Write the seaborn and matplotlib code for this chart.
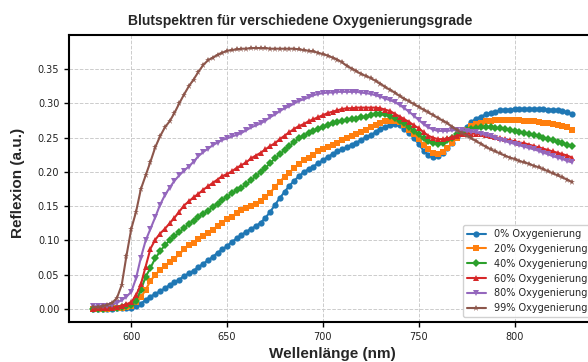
import numpy as np
import matplotlib
matplotlib.use('Agg')
import matplotlib.pyplot as plt
import seaborn as sns

# wavelength grid of the measurement (nm)
wavelength = np.linspace(580, 830, 101)

labels = ['0% Oxygenierung', '20% Oxygenierung', '40% Oxygenierung',
          '60% Oxygenierung', '80% Oxygenierung', '99% Oxygenierung']
markers = ['o', 's', 'D', '^', 'v', '*']

ox0 = [0.000, 0.000, 0.000, 0.000, 0.000, 0.001, 0.001, 0.002, 0.002, 0.005,
       0.008, 0.013, 0.018, 0.022, 0.026, 0.030, 0.035, 0.039, 0.043, 0.048,
       0.052, 0.056, 0.061, 0.066, 0.071, 0.076, 0.082, 0.087, 0.092, 0.098,
       0.103, 0.108, 0.113, 0.117, 0.121, 0.126, 0.133, 0.142, 0.152, 0.162,
       0.171, 0.180, 0.187, 0.194, 0.200, 0.204, 0.208, 0.213, 0.217, 0.222,
       0.226, 0.230, 0.233, 0.236, 0.240, 0.243, 0.247, 0.251, 0.254, 0.258,
       0.263, 0.266, 0.269, 0.270, 0.268, 0.263, 0.257, 0.249, 0.241, 0.231,
       0.225, 0.222, 0.223, 0.228, 0.235, 0.243, 0.251, 0.259, 0.266, 0.273,
       0.278, 0.281, 0.284, 0.286, 0.288, 0.290, 0.291, 0.291, 0.292, 0.292,
       0.292, 0.292, 0.292, 0.292, 0.292, 0.291, 0.291, 0.290, 0.289, 0.287,
       0.284]
ox20 = [0.000, 0.000, 0.000, 0.000, 0.001, 0.001, 0.002, 0.003, 0.005, 0.010,
        0.017, 0.028, 0.041, 0.050, 0.057, 0.063, 0.068, 0.073, 0.080, 0.087,
        0.093, 0.097, 0.102, 0.107, 0.111, 0.116, 0.121, 0.126, 0.131, 0.135,
        0.140, 0.144, 0.147, 0.150, 0.153, 0.157, 0.163, 0.170, 0.178, 0.186,
        0.193, 0.199, 0.206, 0.212, 0.217, 0.221, 0.225, 0.230, 0.233, 0.237,
        0.240, 0.243, 0.246, 0.249, 0.252, 0.255, 0.258, 0.262, 0.265, 0.269,
        0.272, 0.274, 0.275, 0.275, 0.273, 0.268, 0.262, 0.255, 0.248, 0.240,
        0.233, 0.228, 0.226, 0.229, 0.235, 0.242, 0.250, 0.256, 0.262, 0.267,
        0.270, 0.272, 0.274, 0.275, 0.276, 0.276, 0.276, 0.276, 0.276, 0.276,
        0.275, 0.275, 0.274, 0.273, 0.272, 0.271, 0.270, 0.268, 0.267, 0.265,
        0.262]
ox40 = [0.000, 0.000, 0.000, 0.001, 0.001, 0.002, 0.003, 0.004, 0.006, 0.012,
        0.028, 0.047, 0.060, 0.074, 0.084, 0.093, 0.100, 0.106, 0.112, 0.118,
        0.124, 0.129, 0.134, 0.139, 0.143, 0.149, 0.154, 0.159, 0.164, 0.169,
        0.173, 0.177, 0.182, 0.188, 0.194, 0.200, 0.206, 0.213, 0.220, 0.226,
        0.232, 0.238, 0.244, 0.249, 0.253, 0.257, 0.260, 0.263, 0.266, 0.269,
        0.271, 0.273, 0.275, 0.276, 0.277, 0.278, 0.280, 0.281, 0.283, 0.284,
        0.284, 0.284, 0.282, 0.279, 0.275, 0.271, 0.266, 0.260, 0.255, 0.249,
        0.245, 0.242, 0.241, 0.243, 0.246, 0.250, 0.255, 0.259, 0.261, 0.263,
        0.264, 0.265, 0.265, 0.265, 0.264, 0.264, 0.263, 0.261, 0.260, 0.259,
        0.257, 0.256, 0.254, 0.252, 0.250, 0.248, 0.246, 0.244, 0.242, 0.240,
        0.238]
ox60 = [0.000, 0.001, 0.001, 0.002, 0.002, 0.003, 0.005, 0.007, 0.010, 0.020,
        0.036, 0.062, 0.088, 0.101, 0.110, 0.117, 0.125, 0.133, 0.142, 0.151,
        0.157, 0.163, 0.168, 0.174, 0.179, 0.184, 0.189, 0.194, 0.197, 0.201,
        0.206, 0.210, 0.214, 0.220, 0.224, 0.228, 0.233, 0.238, 0.242, 0.248,
        0.253, 0.258, 0.263, 0.267, 0.270, 0.274, 0.277, 0.280, 0.283, 0.286,
        0.288, 0.290, 0.292, 0.293, 0.293, 0.294, 0.294, 0.294, 0.294, 0.294,
        0.293, 0.291, 0.289, 0.285, 0.281, 0.277, 0.273, 0.268, 0.264, 0.258,
        0.253, 0.250, 0.248, 0.248, 0.249, 0.251, 0.253, 0.255, 0.256, 0.256,
        0.256, 0.255, 0.254, 0.253, 0.251, 0.249, 0.248, 0.246, 0.245, 0.243,
        0.242, 0.240, 0.238, 0.236, 0.234, 0.232, 0.230, 0.228, 0.226, 0.224,
        0.221]
ox80 = [0.004, 0.004, 0.005, 0.005, 0.006, 0.009, 0.013, 0.018, 0.025, 0.045,
        0.075, 0.100, 0.117, 0.134, 0.152, 0.166, 0.177, 0.187, 0.195, 0.202,
        0.208, 0.215, 0.223, 0.229, 0.234, 0.239, 0.243, 0.247, 0.249, 0.252,
        0.254, 0.257, 0.261, 0.265, 0.268, 0.271, 0.275, 0.280, 0.284, 0.289,
        0.293, 0.296, 0.300, 0.304, 0.306, 0.309, 0.312, 0.314, 0.315, 0.316,
        0.316, 0.317, 0.317, 0.317, 0.317, 0.317, 0.316, 0.315, 0.314, 0.312,
        0.310, 0.307, 0.305, 0.302, 0.298, 0.293, 0.288, 0.282, 0.276, 0.270,
        0.265, 0.262, 0.260, 0.260, 0.260, 0.261, 0.261, 0.261, 0.260, 0.259,
        0.258, 0.256, 0.254, 0.252, 0.249, 0.247, 0.245, 0.243, 0.241, 0.239,
        0.237, 0.235, 0.233, 0.231, 0.228, 0.226, 0.223, 0.221, 0.219, 0.216,
        0.214]
ox99 = [0.003, 0.003, 0.004, 0.006, 0.009, 0.016, 0.035, 0.078, 0.117, 0.142,
        0.175, 0.195, 0.215, 0.236, 0.252, 0.265, 0.274, 0.286, 0.300, 0.313,
        0.325, 0.335, 0.346, 0.356, 0.363, 0.367, 0.371, 0.374, 0.377, 0.378,
        0.379, 0.380, 0.380, 0.381, 0.381, 0.381, 0.381, 0.380, 0.380, 0.380,
        0.380, 0.380, 0.380, 0.379, 0.378, 0.377, 0.376, 0.374, 0.372, 0.370,
        0.367, 0.364, 0.360, 0.355, 0.351, 0.347, 0.343, 0.340, 0.337, 0.333,
        0.329, 0.324, 0.320, 0.316, 0.311, 0.307, 0.303, 0.299, 0.295, 0.291,
        0.287, 0.283, 0.279, 0.275, 0.271, 0.266, 0.261, 0.257, 0.253, 0.249,
        0.245, 0.241, 0.237, 0.233, 0.230, 0.227, 0.224, 0.221, 0.219, 0.216,
        0.214, 0.212, 0.209, 0.207, 0.204, 0.201, 0.198, 0.195, 0.192, 0.189,
        0.185]

series = [ox0, ox20, ox40, ox60, ox80, ox99]
colours = sns.color_palette('tab10', 6)

sns.set_style('ticks')
plt.rcParams['font.family'] = 'DejaVu Sans'

fig = plt.figure(figsize=(5.88, 3.62), dpi=100)
# axes run slightly past the right edge, like the cropped original
ax = fig.add_axes([69 / 588, 1 - 322 / 362, (596 - 69) / 588, (322 - 35) / 362])

for vals, lab, m, c in zip(series, labels, markers, colours):
    sns.lineplot(x=wavelength, y=vals, marker=m, color=c, label=lab, ax=ax,
                 linewidth=1.5, markersize=4.5, markeredgewidth=0)

ax.set_xlim(567.5, 842.5)
ax.set_ylim(-0.019, 0.40)
ax.set_xticks([600, 650, 700, 750, 800])
ax.set_yticks([0.0, 0.05, 0.10, 0.15, 0.20, 0.25, 0.30, 0.35])
ax.yaxis.set_major_formatter(matplotlib.ticker.StrMethodFormatter('{x:.2f}'))
ax.grid(True, linestyle='--', color='#cccccc', linewidth=0.7)
ax.tick_params(labelsize=7, length=3.5, width=1, color='black', labelcolor='#222222')
for sp in ax.spines.values():
    sp.set_color('black')
    sp.set_linewidth(1.5)
ax.set_xlabel('')
ax.set_ylabel('')

ax.legend(loc='lower right', fontsize=7, frameon=True, framealpha=0.9,
          edgecolor='#cccccc', fancybox=True)

lab_font = dict(family='Liberation Sans', fontweight='bold')
fig.text(300 / 588, 1 - 21 / 362, 'Blutspektren für verschiedene Oxygenierungsgrade',
         ha='center', va='center', fontsize=10, **lab_font)
fig.text(332 / 588, 4 / 362, 'Wellenlänge (nm)', ha='center', va='baseline',
         fontsize=11, **lab_font)
fig.text(18 / 588, 1 - 183 / 362, 'Reflexion (a.u.)', ha='center', va='center',
         rotation=90, fontsize=11, **lab_font)

fig.savefig('out.png', dpi=100)
